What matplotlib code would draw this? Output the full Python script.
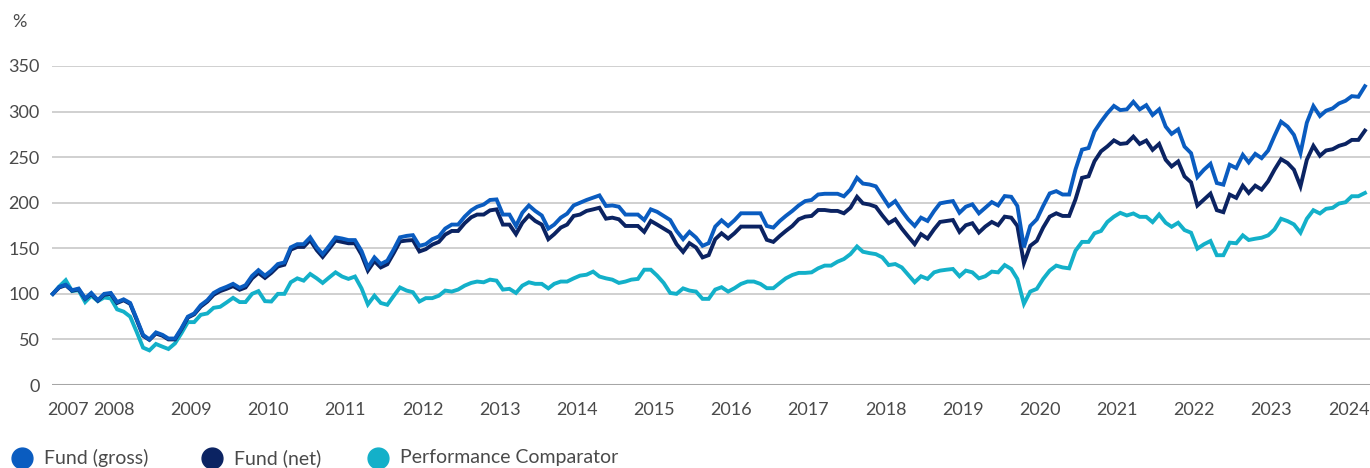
import matplotlib
matplotlib.use("Agg")
import matplotlib.pyplot as plt
from matplotlib.lines import Line2D
import pandas as pd

# monthly values, rebased to 100 at the start (Aug 2007 -> Aug 2024)
fund_gross = [
    100, 107.7, 110, 104, 105.8, 95, 101, 93, 100, 101, 91, 94, 90, 73, 55, 50, 57.7, 55, 51, 51,
    62, 75, 78.5, 87.6, 93, 101, 105, 107.7, 111, 106.6, 109.5, 119.7, 126, 120,
    125.5, 132.7, 134.5, 151, 154.5, 154.5, 162, 151, 143.6, 152.7, 162, 160.7, 159, 159, 147, 129,
    140, 132.7, 136.4, 149, 162, 163.6, 164.4, 152.7, 154.5, 160, 163, 171.6, 176, 176, 184.7, 191.6, 195.6,
    198, 203, 203.6, 187, 187, 174.5, 189, 197, 191, 186, 171.6, 176, 183.6, 188, 197, 200, 203, 205.5,
    208, 196.4, 197, 195.6, 187, 187, 187, 181, 192.7, 190, 185.5, 181, 169, 160,
    168, 161.8, 152.7, 155.6, 173.8, 180.7, 174.5, 180.7, 188.4, 188.4, 188.4, 188.4, 174.5, 172.7, 180,
    185.5, 191, 197, 201.8, 203, 209, 209.8, 209.8, 209.8, 207, 214.5, 227.3, 221, 220, 218, 207, 196.4,
    201.8, 191, 181.8,
    174.5, 183.6, 180, 190.9, 199.3, 200.7, 201.8, 189, 195.6, 198.2, 188.4, 194.5, 200.7, 197, 207.3,
    206.5, 196.4, 151, 174.5, 181.8, 196.4, 210.2, 212.7, 209, 209, 236.4, 258.2, 260, 278.2, 289, 298.2,
    306.2,
    301.6, 302.4, 310.7, 302.4, 307, 296.2, 302.4, 283.5, 275.5, 280.5, 261.6, 254.4, 228.2, 236.2, 242.7,
    221.6, 219.8, 241.6, 238, 252.5, 244.2, 253.6, 248.9, 257.3, 273.3, 288.9, 283.5, 274.4, 254.4, 287.8,
    306, 295.1, 300.9, 303.5, 308.9, 311.8, 316.9, 316.2, 327.8,
]

fund_net = [
    100, 107, 109.5, 103.5, 105, 94.5, 100, 92.5, 99, 100, 90, 93, 89, 72, 54, 49.5, 56.5, 54, 50, 50,
    61, 74, 77.5, 86, 91.5, 99, 103, 105.5, 108.5, 104.5, 107, 117, 123, 117.5,
    123, 130, 132, 148.5, 151.5, 151.5, 159, 148, 140.5, 149.5, 158.5, 157, 155.5, 155.5, 143, 125.5,
    136, 129, 132.5, 145, 157.5, 158.5, 159, 146.5, 149, 154, 157, 165, 169, 169, 177.5, 184, 187,
    187, 191.6, 192.7, 176, 176, 165.5, 178, 186, 180, 176, 160, 165.5, 172.7, 176, 185.5, 187, 191, 192.7,
    194.5, 182.5, 183.6, 181.8, 174.5, 174.5, 174.5, 168, 180, 176, 171.6, 167.3, 154.5, 146,
    155.6, 150.9, 140, 142.5, 160, 166.5, 160.7, 166.5, 173.8, 173.8, 173.8, 173.8, 159.3, 157, 163.6,
    169, 174.5, 181.8, 184.7, 185.5, 192, 192, 191, 191, 188.4, 194.5, 206.5, 199.3, 198, 195.6, 186, 177.5,
    181.8, 171.6, 163,
    154.5, 165.5, 160.7, 170.9, 178.9, 180, 181, 168, 175.3, 177.5, 167.3, 173.8, 178.9, 175.3, 184.7,
    183.6, 174.5, 133.8, 152.7, 158.2, 172.7, 184.7, 188.4, 185.5, 185.5, 203.6, 227.3, 229, 245.5, 256.4,
    261.8, 268.4,
    264.5, 265.3, 272.5, 264.5, 268.2, 258, 264.5, 247.1, 239.8, 245.3, 228.9, 222.4, 196.9, 203.5, 210,
    191.8, 189.6, 208.9, 205.3, 218.7, 210.7, 218.7, 214.4, 223.5, 236.2, 247.8, 243.5, 236.2, 218, 247.1,
    262.4, 251.5, 257.3, 258.7, 262.4, 264.5, 268.9, 268.9, 279.1,
]

comparator = [
    100, 108, 115, 103, 104, 91, 98, 92, 96, 95, 83, 80.5, 75, 58.7, 41, 38, 45, 42, 39.5, 45.6,
    56.6, 69, 69, 77, 78.5, 84.7, 85.8, 90.5, 95.6, 91, 91, 100, 103, 92,
    91.6, 100, 100, 112.7, 117, 114.5, 121.8, 117, 112, 118, 123.6, 119, 116.4, 119, 106, 88.4,
    98, 90, 88, 98, 107, 103.6, 101.8, 91.6, 95.3, 95.3, 98, 103.6, 102.5, 104.7, 109, 112, 113.5,
    112.7, 115.6, 114.5, 104.7, 105.5, 101, 109, 112.7, 111, 111, 106, 111, 113.5, 113.5, 117, 120, 121,
    124.4, 119, 117, 115.6, 112, 113.5, 115.6, 116.4, 126.5, 126.5, 120, 112, 101, 100, 106,
    103.6, 102.5, 94.5, 94.5, 104.7, 107.3, 102.5, 106.2, 110.9, 113.5, 113.5, 110.9, 106.2, 106.2, 112,
    117, 120.7, 123, 123, 123.6, 128, 131, 131, 135.3, 138.2, 143.6, 152, 146.2, 144.7, 143.6, 140, 131.6,
    132.7, 129, 121,
    112.7, 119.3, 116.4, 123.6, 125.5, 126.5, 127.3, 119.3, 125.5, 123.6, 117, 119.3, 124.4, 123.6, 131.6,
    127.3, 116.4, 89.1, 102.5, 105.5, 116.4, 125.5, 131, 129, 128, 147.3, 157, 157, 166.5, 169, 178.9,
    184.7,
    188.9, 186, 188.2, 184.5, 184.5, 178.7, 187.1, 178, 173.6, 178, 170, 167.1, 149.6, 154.4, 158,
    142.4, 142.4, 156.2, 155.5, 164.2, 159.1, 160.5, 161.6, 164.2, 170.7, 182.4, 179.8, 176.2, 167.1, 182.4,
    191.8, 188.2, 193.3, 194.4, 199.1, 200.5, 207.1, 207.1, 210.7,
]

dates = pd.date_range("2007-08-31", periods=len(fund_gross), freq="ME")

year_labels = ["2007"] + [str(y) for y in range(2008, 2025)]
year_ticks = [pd.Timestamp("2007-11-10")] + [pd.Timestamp(f"{y}-06-15") for y in range(2008, 2025)]

series_names = ["Fund (gross)", "Fund (net)", "Performance Comparator"]
colors = ["#0A5CC0", "#0B2362", "#13B0C9"]
text_color = "#4a4a4a"

plt.rcParams["font.family"] = ["Lato", "DejaVu Sans"]

fig = plt.figure(figsize=(13.7, 4.68), dpi=100)
ax = fig.add_axes([52 / 1370, 83 / 468, 1 - 52 / 1370, 319 / 468])

# comparator underneath, net in the middle, gross on top
for vals, col in [(comparator, colors[2]), (fund_net, colors[1]), (fund_gross, colors[0])]:
    ax.plot(dates, vals, color=col, lw=2.8, solid_joinstyle="miter", clip_on=False, zorder=3)

ax.set_ylim(0, 350)
ax.set_yticks(range(0, 351, 50))
ax.set_xlim(dates[0] - pd.Timedelta(days=4), dates[-1] + pd.Timedelta(days=24))
ax.set_xticks(year_ticks)
ax.set_xticklabels(year_labels)

ax.grid(axis="y", color="#c4c4c4", lw=1.1)
ax.set_axisbelow(True)
for s in ax.spines.values():
    s.set_visible(False)
ax.axhline(0, color="#a6a6a6", lw=2.2, zorder=2)

ax.tick_params(axis="both", length=0, labelsize=13, labelcolor=text_color)
ax.tick_params(axis="y", pad=9)
ax.tick_params(axis="x", pad=12)

fig.text(12 / 1370, 1 - 22 / 468, "%", fontsize=13, color=text_color, va="center")

# legend drawn by hand: dot + label, spaced like the original
legend_x = [22, 212, 378]
legend_y = 1 - 458 / 468
for name, col, lx in zip(series_names, colors, legend_x):
    fig.add_artist(Line2D([lx / 1370], [legend_y], marker="o", markersize=15, color=col,
                          ls="none", transform=fig.transFigure))
    fig.text((lx + 22) / 1370, legend_y, name, fontsize=14, color=text_color, va="center")

fig.savefig("out.png", dpi=100)
